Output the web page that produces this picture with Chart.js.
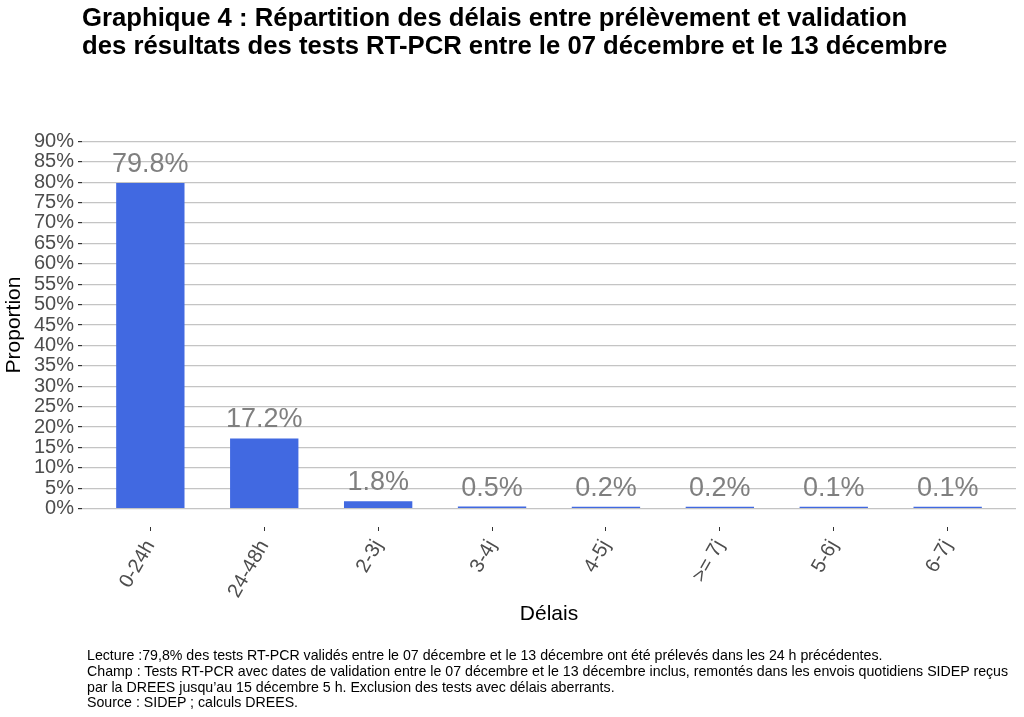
<!DOCTYPE html>
<html lang="fr">
<head>
<meta charset="utf-8">
<script src="https://cdn.jsdelivr.net/npm/chart.js@4"></script>
<style>
  body { margin: 0; background: #fff; font-family: "Liberation Sans", Arial, sans-serif; }
  #wrap { position: relative; width: 1024px; height: 717px; }
  #chart { position: absolute; left: 0; top: 0; }
  h1 { position: absolute; left: 82px; top: 3px; margin: 0; font-size: 25.7px; line-height: 28px; font-weight: bold; color: #000; white-space: nowrap; }
  #notes { position: absolute; left: 87px; top: 648px; font-size: 14.2px; line-height: 15.8px; color: #000; white-space: nowrap; }
</style>
</head>
<body>
<div id="wrap">
  <canvas id="chart" width="1024" height="717"></canvas>
  <h1>Graphique 4 : Répartition des délais entre prélèvement et validation<br>des résultats des tests RT-PCR entre le 07 décembre et le 13 décembre</h1>
  <div id="notes">
    Lecture :79,8% des tests RT-PCR validés entre le 07 décembre et le 13 décembre ont été prélevés dans les 24 h précédentes.<br>
    Champ : Tests RT-PCR avec dates de validation entre le 07 décembre et le 13 décembre inclus, remontés dans les envois quotidiens SIDEP reçus<br>
    par la DREES jusqu’au 15 décembre 5 h. Exclusion des tests avec délais aberrants.<br>
    Source : SIDEP ; calculs DREES.
  </div>
</div>
<script>
// categories and values
const delais = ['0-24h', '24-48h', '2-3j', '3-4j', '4-5j', '>= 7j', '5-6j', '6-7j'];
const proportions = [79.8, 17.2, 1.8, 0.5, 0.2, 0.2, 0.1, 0.1];
const yTicks = [0, 5, 10, 15, 20, 25, 30, 35, 40, 45, 50, 55, 60, 65, 70, 75, 80, 85, 90];

const FONT = '"Liberation Sans", Arial, sans-serif';

// draws the percentage above each bar
const valueLabels = {
    id: 'valueLabels',
    afterDatasetsDraw(chart) {
        const ctx = chart.ctx;
        const meta = chart.getDatasetMeta(0);
        ctx.save();
        ctx.font = '27px ' + FONT;
        ctx.fillStyle = '#7f7f7f';
        ctx.textAlign = 'center';
        ctx.textBaseline = 'alphabetic';
        meta.data.forEach((bar, i) => {
            ctx.fillText(proportions[i].toFixed(1) + '%', bar.x, Math.min(bar.y, bar.base - 1) - 11);
        });
        ctx.restore();
    }
};

new Chart(document.getElementById('chart'), {
    type: 'bar',
    data: {
        datasets: [{
            data: proportions.map((v, i) => ({ x: i + 1, y: v })),
            backgroundColor: '#4169e1',
            borderWidth: 0,
            minBarLength: 2,
            barPercentage: 0.6,
            categoryPercentage: 1
        }]
    },
    options: {
        responsive: false,
        animation: false,
        layout: { padding: { left: 0, right: 8, top: 123, bottom: 90 } },
        plugins: {
            legend: { display: false },
            tooltip: { enabled: false }
        },
        scales: {
            x: {
                type: 'linear',
                offset: false,
                min: 0.4,
                max: 8.6,
                afterBuildTicks: scale => { scale.ticks = delais.map((d, i) => ({ value: i + 1 })); },
                afterFit: scale => { scale.height = 100; },
                grid: { offset: false, drawOnChartArea: false, drawTicks: true, tickLength: 4, tickColor: '#333' },
                border: { display: false },
                ticks: {
                    autoSkip: false,
                    minRotation: 60,
                    maxRotation: 60,
                    padding: 5,
                    color: '#4d4d4d',
                    font: { family: FONT, size: 20 },
                    callback: v => delais[v - 1]
                },
                title: { display: true, text: 'Délais', color: '#000', font: { family: FONT, size: 21 }, padding: { top: 0, bottom: 0 } }
            },
            y: {
                min: -4.5,
                max: 94.5,
                afterBuildTicks: scale => { scale.ticks = yTicks.map(v => ({ value: v })); },
                afterFit: scale => { scale.width = 82; },
                grid: { color: '#c4c4c4', lineWidth: 1.2, drawTicks: true, tickLength: 4, tickColor: '#333' },
                border: { display: false },
                ticks: {
                    autoSkip: false,
                    padding: 4,
                    color: '#4d4d4d',
                    font: { family: FONT, size: 20 },
                    callback: v => v + '%'
                },
                title: { display: true, text: 'Proportion', color: '#000', font: { family: FONT, size: 21 }, padding: { top: 2, bottom: 0 } }
            }
        }
    },
    plugins: [valueLabels]
});
</script>
</body>
</html>
